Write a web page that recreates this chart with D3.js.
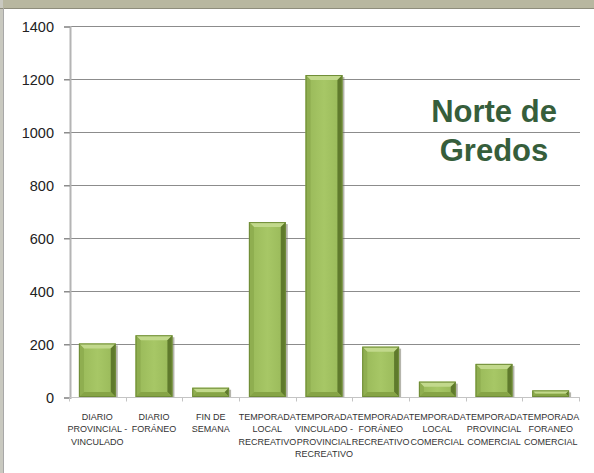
<!DOCTYPE html>
<html>
<head>
<meta charset="utf-8">
<script src="https://cdn.jsdelivr.net/npm/d3@7"></script>
<style>
  body { margin: 0; background: #fff; }
  svg { display: block; }
</style>
</head>
<body>
<div id="chart-container"></div>
<script>
// chart data
const categories = [
  ["DIARIO", "PROVINCIAL -", "VINCULADO"],
  ["DIARIO", "FORÁNEO"],
  ["FIN DE", "SEMANA"],
  ["TEMPORADA", "LOCAL", "RECREATIVO"],
  ["TEMPORADA", "VINCULADO -", "PROVINCIAL", "RECREATIVO"],
  ["TEMPORADA", "FORÁNEO", "RECREATIVO"],
  ["TEMPORADA", "LOCAL", "COMERCIAL"],
  ["TEMPORADA", "PROVINCIAL", "COMERCIAL"],
  ["TEMPORADA", "FORANEO", "COMERCIAL"]
];
const values = [202, 233, 35, 660, 1215, 190, 58, 125, 25];
const yTicks = [0, 200, 400, 600, 800, 1000, 1200, 1400];
const titleLines = ["Norte de", "Gredos"];

const width = 594, height = 473;
const svg = d3.select('#chart-container').append('svg')
  .attr('width', width).attr('height', height);

const defs = svg.append('defs');
const bodyGrad = defs.append('linearGradient').attr('id', 'barBody')
  .attr('x1', 0).attr('x2', 1).attr('y1', 0).attr('y2', 0);
bodyGrad.append('stop').attr('offset', '0%').attr('stop-color', '#98b858');
bodyGrad.append('stop').attr('offset', '50%').attr('stop-color', '#a7c766');
bodyGrad.append('stop').attr('offset', '100%').attr('stop-color', '#98b858');

// slide frame
svg.append('rect').attr('x', 0).attr('y', 0).attr('width', width).attr('height', 8)
  .attr('fill', '#b8b7a0');
svg.append('rect').attr('x', 0).attr('y', 0).attr('width', 3).attr('height', height)
  .attr('fill', '#c9c9c0');
svg.append('line').attr('x1', 0).attr('x2', width).attr('y1', 8.5).attr('y2', 8.5)
  .attr('stroke', '#8e8d7c').attr('stroke-width', 1);
svg.append('line').attr('x1', 3.5).attr('x2', 3.5).attr('y1', 8).attr('y2', height)
  .attr('stroke', '#a8a8a8').attr('stroke-width', 1);

const margin = { left: 70, right: 14, top: 26, bottom: 76 };

const xScale = d3.scaleBand()
  .domain(d3.range(values.length))
  .range([margin.left, width - margin.right])
  .paddingInner(0.35)
  .paddingOuter(0.175)
  .align(0.45);

const yScale = d3.scaleLinear()
  .domain([0, 1400])
  .range([height - margin.bottom, margin.top]);

// gridlines
svg.append('g').selectAll('line')
  .data(yTicks.filter(d => d > 0))
  .join('line')
  .attr('x1', margin.left - 6).attr('x2', width - margin.right)
  .attr('y1', d => Math.round(yScale(d)) + 0.5)
  .attr('y2', d => Math.round(yScale(d)) + 0.5)
  .attr('stroke', '#8c8c8c');

// y axis
const yAxis = d3.axisLeft(yScale).tickValues(yTicks).tickFormat(d3.format('d'))
  .tickSize(6).tickPadding(10);
const yAxisGroup = svg.append('g')
  .attr('transform', `translate(${margin.left}, 0.5)`)
  .call(yAxis);
yAxisGroup.select('.domain').attr('stroke', '#b4b4b4').attr('stroke-width', 2);
yAxisGroup.selectAll('.tick line').attr('stroke', '#8c8c8c');
yAxisGroup.selectAll('.tick text')
  .attr('font-family', 'Arial, "Liberation Sans", sans-serif')
  .attr('font-size', 14.5)
  .attr('fill', '#222');

// x axis baseline and ticks between categories
const y0 = Math.round(yScale(0)) + 0.5;
svg.append('line')
  .attr('x1', margin.left).attr('x2', width - margin.right)
  .attr('y1', y0).attr('y2', y0)
  .attr('stroke', '#c4c4c4');
const step = xScale.step();
const firstEdge = xScale(0) + xScale.bandwidth() / 2 - step / 2;
svg.append('g').selectAll('line')
  .data(d3.range(values.length + 1))
  .join('line')
  .attr('x1', i => Math.round(firstEdge + i * step) + 0.5)
  .attr('x2', i => Math.round(firstEdge + i * step) + 0.5)
  .attr('y1', y0).attr('y2', y0 + 4)
  .attr('stroke', '#c4c4c4');

// bars with bevel
const bev = 5;
const bars = svg.append('g').selectAll('g')
  .data(values)
  .join('g')
  .attr('class', 'bar');

bars.each(function(v, i) {
  const g = d3.select(this);
  const x0 = xScale(i), w = xScale.bandwidth();
  const x1 = x0 + w;
  const yt = yScale(v), yb = yScale(0);
  const b = Math.min(bev, (yb - yt) / 2);
  // shadow
  g.append('rect').attr('x', x1).attr('y', yt + 2).attr('width', 2).attr('height', yb - yt - 2)
    .attr('fill', '#6b6b5a').attr('opacity', 0.5);
  g.append('rect').attr('x', x0).attr('y', yt).attr('width', w).attr('height', yb - yt)
    .attr('fill', 'url(#barBody)');
  // top bevel
  g.append('polygon')
    .attr('points', `${x0},${yt} ${x1},${yt} ${x1 - b},${yt + b} ${x0 + b},${yt + b}`)
    .attr('fill', '#c2d98c');
  // left bevel
  g.append('polygon')
    .attr('points', `${x0},${yt} ${x0 + b},${yt + b} ${x0 + b},${yb - b} ${x0},${yb}`)
    .attr('fill', '#8fae50');
  // right bevel
  g.append('polygon')
    .attr('points', `${x1},${yt} ${x1 - b},${yt + b} ${x1 - b},${yb - b} ${x1},${yb}`)
    .attr('fill', '#5f7a2c');
  // bottom bevel
  g.append('polygon')
    .attr('points', `${x0},${yb} ${x0 + b},${yb - b} ${x1 - b},${yb - b} ${x1},${yb}`)
    .attr('fill', '#86a446');
  g.append('rect').attr('x', x0 + 0.5).attr('y', yt + 0.5).attr('width', w - 1).attr('height', yb - yt - 1)
    .attr('fill', 'none').attr('stroke', '#6f8c37').attr('stroke-width', 1);
});

// category labels
const labels = svg.append('g').selectAll('text')
  .data(categories)
  .join('text')
  .attr('x', (d, i) => xScale(i) + xScale.bandwidth() / 2)
  .attr('y', 420)
  .attr('text-anchor', 'middle')
  .attr('font-family', 'Arial, "Liberation Sans", sans-serif')
  .attr('font-size', 9)
  .attr('fill', '#333');
labels.selectAll('tspan')
  .data(d => d)
  .join('tspan')
  .attr('x', function() { return d3.select(this.parentNode).attr('x'); })
  .attr('dy', (d, j) => j === 0 ? 0 : 12.3)
  .text(d => d);

// title inside plot
svg.append('text')
  .attr('x', 494)
  .attr('y', 122)
  .attr('text-anchor', 'middle')
  .attr('font-family', 'Arial, "Liberation Sans", sans-serif')
  .attr('font-weight', 'bold')
  .attr('font-size', 31)
  .attr('fill', '#365e3b')
  .selectAll('tspan')
  .data(titleLines)
  .join('tspan')
  .attr('x', 494)
  .attr('dy', (d, j) => j === 0 ? 0 : 39)
  .text(d => d);
</script>
</body>
</html>
